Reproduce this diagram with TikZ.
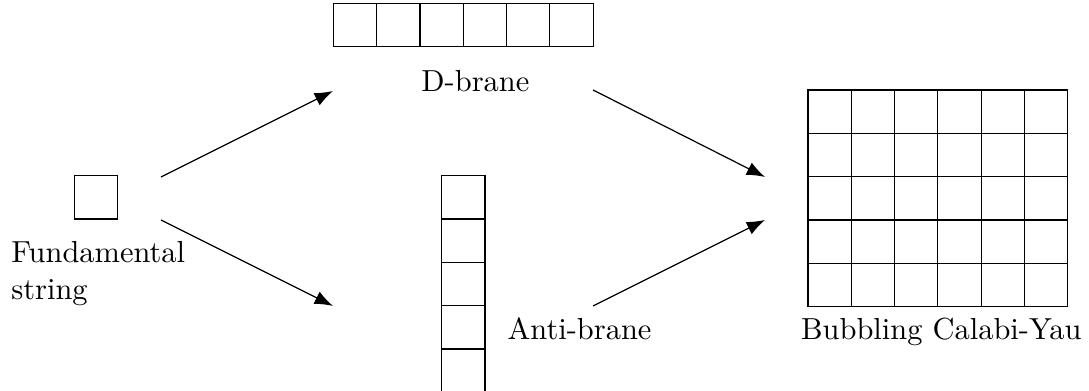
\documentclass[tikz,border=0pt]{standalone}
\usepackage{tikz}
\usetikzlibrary{calc}
\usetikzlibrary{arrows.meta}
\tikzset{>={Latex[length=6pt,width=4.5pt]}}

\begin{document}
\begin{tikzpicture}
			\useasboundingbox (0,0) rectangle (12.575,-4.515);
			\coordinate (F) at (0.86,-2.03);
			\coordinate (D) at (3.849,-0.04);
			\coordinate (A) at (5.10,-2.03);
			\coordinate (C) at (9.33,-1.04);
			
			% diagrams
			\draw (F) rectangle ++(0.5,-0.5);
			\foreach \i in {0,...,5}
				\draw ($(D)+(0.5*\i,0)$) rectangle ++(0.5,-0.5);
			\foreach \j in {0,...,4}
				\draw ($(A)+(0,-0.5*\j)$) rectangle ++(0.5,-0.5);
			\foreach \i in {0,...,5}
				\foreach \j in {0,...,4}
					\draw ($(C)+(0.5*\i,-0.5*\j)$) rectangle ++(0.5,-0.5);
			
			% labels
			\node[anchor=base west, align=left, inner sep=0pt] (fund) at (0.124,-3.453) {Fundamental\\string};
			\node[anchor=base, inner sep=0pt] (dlabel) at (5.49,-1.051) {D-brane};
			\node[anchor=base west, inner sep=0pt] (alabel) at (5.855,-3.915) {Anti-brane};
			\node[anchor=base, inner sep=0pt] (cylabel) at (10.87,-3.915) {Bubbling Calabi-Yau};
			
			% arrows
			\coordinate (F1) at (1.859,-2.044);
			\coordinate (F2) at (1.859,-2.540);
			\coordinate (D1) at (3.845,-1.051);
			\coordinate (A1) at (3.845,-3.533);
			\coordinate (D2) at (6.848,-1.039);
			\coordinate (A2) at (6.848,-3.533);
			\coordinate (C1) at (8.834,-2.044);
			\coordinate (C2) at (8.834,-2.540);
			\draw[->] (F1)--(D1);
			\draw[->] (F2)--(A1);
			\draw[->] (D2)--(C1);
			\draw[->] (A2)--(C2);
		\end{tikzpicture}
\end{document}
